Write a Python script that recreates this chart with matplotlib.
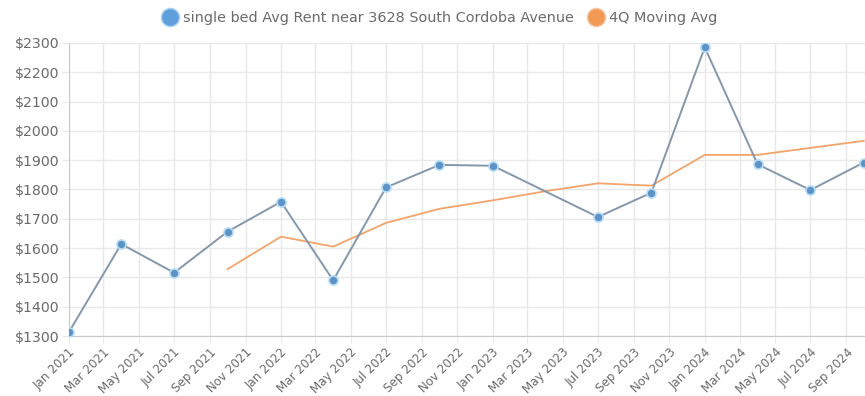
import matplotlib
matplotlib.use('Agg')
import matplotlib.pyplot as plt
import numpy as np
from datetime import datetime

plt.rcParams['font.family'] = ['DejaVu Sans']

# quarterly single bed rent (Apr 2023 has no reading)
rent_dates = ['2021-01', '2021-04', '2021-07', '2021-10', '2022-01', '2022-04',
              '2022-07', '2022-10', '2023-01', '2023-07', '2023-10', '2024-01',
              '2024-04', '2024-07', '2024-10']
rent = [1314, 1614, 1516, 1656, 1758, 1490, 1807, 1884, 1881, 1706, 1789, 2285,
        1886, 1798, 1892]

# 4 quarter moving average
avg_dates = ['2021-10', '2022-01', '2022-04', '2022-07', '2022-10', '2023-01',
             '2023-04', '2023-07', '2023-10', '2024-01', '2024-04', '2024-07',
             '2024-10']
moving_avg = [1528, 1639, 1605, 1686, 1734, 1763, 1794, 1821, 1813, 1918, 1918,
              1942, 1966]

tick_labels = ['Jan 2021', 'Mar 2021', 'May 2021', 'Jul 2021', 'Sep 2021',
               'Nov 2021', 'Jan 2022', 'Mar 2022', 'May 2022', 'Jul 2022',
               'Sep 2022', 'Nov 2022', 'Jan 2023', 'Mar 2023', 'May 2023',
               'Jul 2023', 'Sep 2023', 'Nov 2023', 'Jan 2024', 'Mar 2024',
               'May 2024', 'Jul 2024', 'Sep 2024']
y_ticks = list(range(1300, 2301, 100))

to_date = lambda s: datetime.strptime(s, '%Y-%m')
x_rent = [to_date(s) for s in rent_dates]
x_avg = [to_date(s) for s in avg_dates]
x_ticks = [datetime.strptime(s, '%b %Y') for s in tick_labels]

fig = plt.figure(figsize=(8.65, 3.96), dpi=100)
ax = fig.add_axes([0.0798, 0.1515, 0.9202, 0.7400])

grid_col = '#e8e8e8'
text_col = '#6b6b6b'

ax.plot(x_avg, moving_avg, color='#f3a46c', lw=1.3, zorder=3)
ax.plot(x_rent, rent, color='#8597ab', lw=1.4, zorder=4,
        marker='o', markersize=6.5, markerfacecolor='#5e93c6',
        markeredgecolor='#b3dcf7', markeredgewidth=1.2)

ax.set_ylim(1300, 2300)
ax.set_xlim(datetime(2021, 1, 1), datetime(2024, 10, 3))
ax.set_yticks(y_ticks)
ax.set_yticklabels(['$%d' % v for v in y_ticks], fontsize=10.2)
ax.set_xticks(x_ticks)
ax.set_xticklabels(tick_labels, rotation=45, ha='right', rotation_mode='anchor',
                   fontsize=8.6)

ax.grid(True, color=grid_col, lw=1)
ax.set_axisbelow(True)
for side in ['top', 'right']:
    ax.spines[side].set_visible(False)
for side in ['left', 'bottom']:
    ax.spines[side].set_color('#c8c8c8')
ax.tick_params(axis='both', colors=grid_col, labelcolor=text_col, length=5)
ax.tick_params(axis='x', pad=2)
ax.tick_params(axis='y', pad=2)

legend_handles = [
    plt.Line2D([], [], ls='none', marker='o', markersize=13,
               markerfacecolor='#5f9fdc', markeredgecolor='#a9d2f2'),
    plt.Line2D([], [], ls='none', marker='o', markersize=13,
               markerfacecolor='#f29a55', markeredgecolor='#f7c59d'),
]
fig.legend(legend_handles,
           ['single bed Avg Rent near 3628 South Cordoba Avenue', '4Q Moving Avg'],
           loc='center', bbox_to_anchor=(0.508, 0.955), ncol=2, frameon=False,
           fontsize=10.4, labelcolor=text_col, handletextpad=0.3,
           columnspacing=0.9, handlelength=1.2)

fig.savefig('out.png', dpi=100)
